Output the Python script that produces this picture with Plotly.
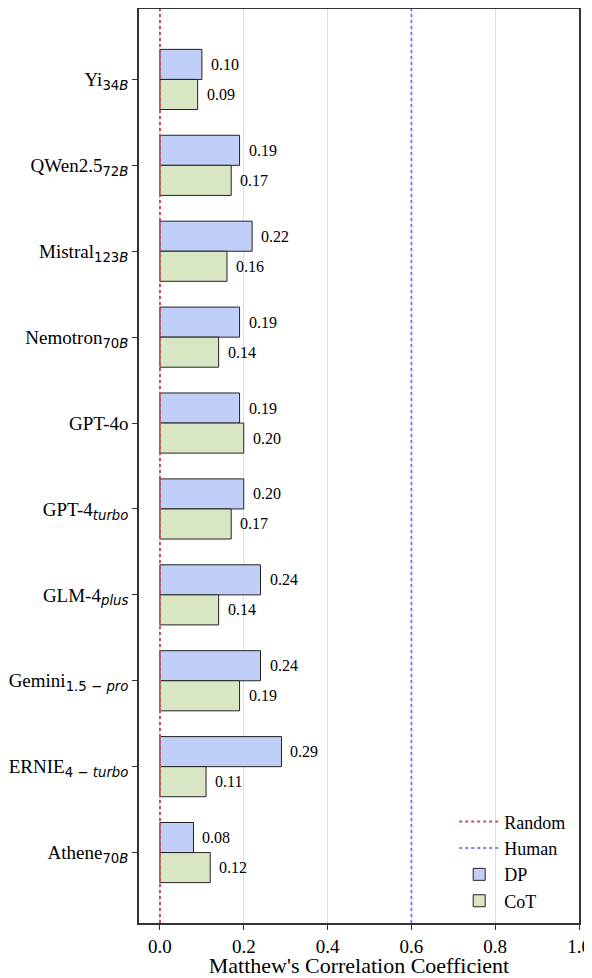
import plotly.graph_objects as go

models = ["Yi", "QWen2.5", "Mistral", "Nemotron", "GPT-4o", "GPT-4turbo",
          "GLM-4plus", "Gemini", "ERNIE", "Athene"]
SUB = "<sub><span style=\"font-family:'DejaVu Sans'\">{}</span></sub>"
tick_labels = [
    "Yi" + SUB.format("34<i>B</i>"),
    "QWen2.5" + SUB.format("72<i>B</i>"),
    "Mistral" + SUB.format("123<i>B</i>"),
    "Nemotron" + SUB.format("70<i>B</i>"),
    "GPT-4o",
    "GPT-4" + SUB.format("<i>turbo</i>"),
    "GLM-4" + SUB.format("<i>plus</i>"),
    "Gemini" + SUB.format("1.5 − <i>pro</i>"),
    "ERNIE" + SUB.format("4 − <i>turbo</i>"),
    "Athene" + SUB.format("70<i>B</i>"),
]
dp = [0.10, 0.19, 0.22, 0.19, 0.19, 0.20, 0.24, 0.24, 0.29, 0.08]
cot = [0.09, 0.17, 0.16, 0.14, 0.20, 0.17, 0.14, 0.19, 0.11, 0.12]
random_mcc = 0.0
human_mcc = 0.6
x_ticks = [0.0, 0.2, 0.4, 0.6, 0.8, 1.0]

FONT = "Liberation Serif, Times New Roman, serif"
EDGE = "#222222"

fig = go.Figure()
fig.add_trace(go.Bar(y=models, x=dp, orientation="h", name="DP", legendrank=3,
                     marker=dict(color="#c0cff7", line=dict(color=EDGE, width=1))))
fig.add_trace(go.Bar(y=models, x=cot, orientation="h", name="CoT", legendrank=4,
                     marker=dict(color="#d9e6c4", line=dict(color=EDGE, width=1))))

fig.add_shape(type="line", x0=random_mcc, x1=random_mcc, yref="paper", y0=0, y1=1,
              line=dict(color="#c8505a", width=2, dash="dot"),
              showlegend=True, name="Random", legendrank=1, layer="above")
fig.add_shape(type="line", x0=human_mcc, x1=human_mcc, yref="paper", y0=0, y1=1,
              line=dict(color="#8080ff", width=2, dash="dot"),
              showlegend=True, name="Human", legendrank=2, layer="above")

for i, (a, b) in enumerate(zip(dp, cot)):
    for val, off in ((a, -0.175), (b, 0.175)):
        fig.add_annotation(x=val, y=i + off, text=f"{val:.2f}", showarrow=False,
                           xanchor="left", yanchor="middle", xshift=7,
                           font=dict(size=16, color="black", family=FONT))

# the page body adds an 8px margin, so the figure is drawn 8px smaller
fig.update_layout(
    width=584, height=970,
    template="plotly_white",
    barmode="group", bargap=0.3, bargroupgap=0,
    font=dict(family=FONT, size=19, color="black"),
    margin=dict(l=131, r=13, t=1, b=55),
    plot_bgcolor="white", paper_bgcolor="white",
    legend=dict(x=0.98, y=0.004, xanchor="right", yanchor="bottom",
                bgcolor="rgba(255,255,255,0)", font=dict(size=18, family=FONT),
                tracegroupgap=0, itemwidth=40),
)
fig.update_xaxes(range=[-0.05, 1.0], tickvals=x_ticks, ticktext=[f"{t:.1f}" for t in x_ticks],
                 showgrid=True, gridcolor="#dddddd", gridwidth=1, zeroline=False,
                 showline=True, linecolor="#333333", linewidth=1.5, mirror=True,
                 ticks="outside", ticklen=5, tickcolor="#333333", automargin=False,
                 tickfont=dict(size=19),
                 title=dict(text="Matthew's Correlation Coefficient", font=dict(size=22), standoff=2))
fig.update_yaxes(type="category", categoryorder="array", categoryarray=models,
                 tickvals=models, ticktext=tick_labels, automargin=False,
                 range=[9.82, -0.82], showgrid=False, zeroline=False,
                 showline=True, linecolor="#333333", linewidth=1.5, mirror=True,
                 ticks="outside", ticklen=5, tickcolor="#333333", tickfont=dict(size=19))

fig.write_html("out.html")
